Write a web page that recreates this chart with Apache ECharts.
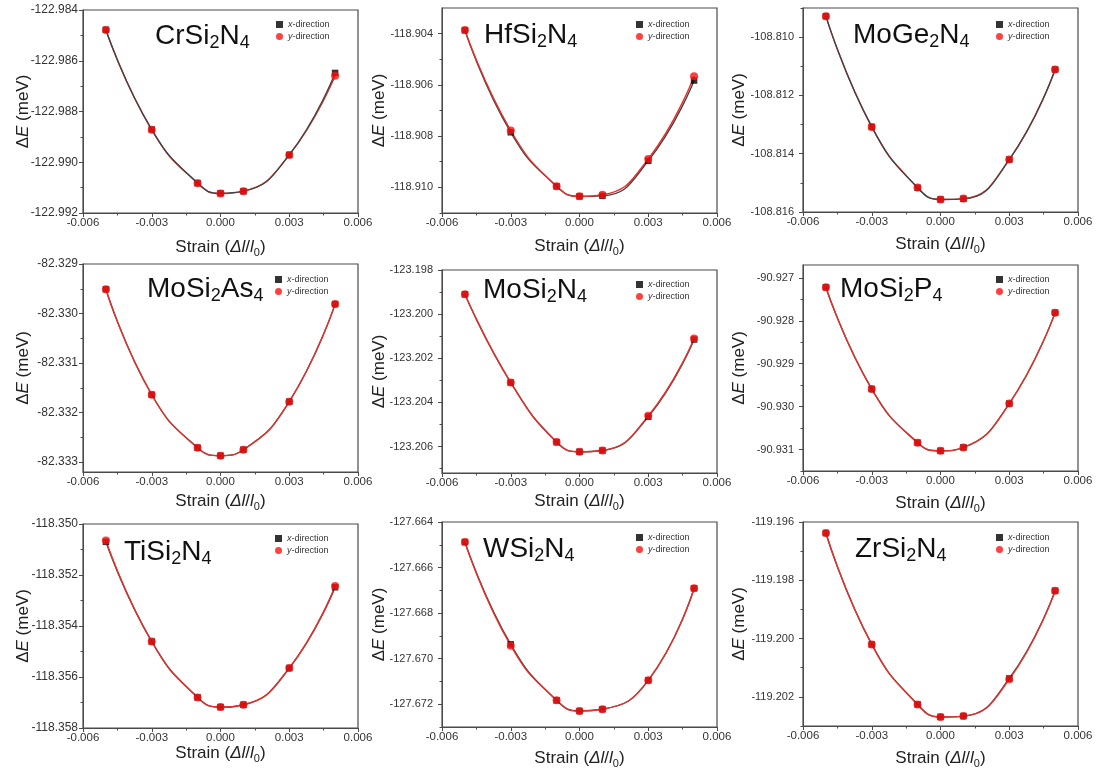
<!DOCTYPE html>
<html>
<head>
<meta charset="utf-8">
<script src="https://cdn.jsdelivr.net/npm/echarts@6/dist/echarts.min.js"></script>
<style>
  html, body { margin: 0; padding: 0; background: #fff; }
  #main { width: 1099px; height: 773px; }
</style>
</head>
<body>
<div id="main"></div>
<script>
// ---------- data ----------
// strain values shared by every panel
var strain = [-0.005, -0.003, -0.001, 0, 0.001, 0.003, 0.005];
var xTicks = [-0.006, -0.003, 0, 0.003, 0.006];

var formulas = ['CrSi{s|2}N{s|4}', 'HfSi{s|2}N{s|4}', 'MoGe{s|2}N{s|4}',
                'MoSi{s|2}As{s|4}', 'MoSi{s|2}N{s|4}', 'MoSi{s|2}P{s|4}',
                'TiSi{s|2}N{s|4}', 'WSi{s|2}N{s|4}', 'ZrSi{s|2}N{s|4}'];

// ΔE (meV), x-direction / y-direction
var crX = [-122.98478, -122.98871, -122.99082, -122.99122, -122.99114, -122.98971, -122.98648];
var crY = [-122.98479, -122.98872, -122.99083, -122.99123, -122.99114, -122.98971, -122.98659];
var hfX = [-118.90387, -118.90785, -118.90996, -118.91035, -118.91033, -118.90896, -118.90583];
var hfY = [-118.90386, -118.90778, -118.90996, -118.91035, -118.91029, -118.90889, -118.90566];
var geX = [-108.80928, -108.81308, -108.81517, -108.81557, -108.81555, -108.81420, -108.81111];
var geY = [-108.80928, -108.81308, -108.81516, -108.81557, -108.81554, -108.81420, -108.81111];
var asX = [-82.32951, -82.33164, -82.33271, -82.33287, -82.33275, -82.33178, -82.32981];
var asY = [-82.32951, -82.33164, -82.33271, -82.33287, -82.33275, -82.33178, -82.32981];
var nX  = [-123.19910, -123.20310, -123.20580, -123.20624, -123.20618, -123.20465, -123.20115];
var nY  = [-123.19910, -123.20310, -123.20580, -123.20624, -123.20618, -123.20461, -123.20110];
var pX  = [-90.92722, -90.92959, -90.93084, -90.93103, -90.93095, -90.92993, -90.92781];
var pY  = [-90.92722, -90.92959, -90.93084, -90.93103, -90.93095, -90.92993, -90.92781];
var tiX = [-118.35070, -118.35461, -118.35680, -118.35718, -118.35709, -118.35565, -118.35248];
var tiY = [-118.35065, -118.35461, -118.35680, -118.35718, -118.35709, -118.35565, -118.35243];
var wX  = [-127.66488, -127.66937, -127.67183, -127.67230, -127.67222, -127.67095, -127.66691];
var wY  = [-127.66488, -127.66943, -127.67183, -127.67230, -127.67222, -127.67095, -127.66691];
var zrX = [-119.19638, -119.20020, -119.20226, -119.20269, -119.20266, -119.20137, -119.19836];
var zrY = [-119.19638, -119.20020, -119.20226, -119.20269, -119.20266, -119.20140, -119.19836];

var xDir = [crX, hfX, geX, asX, nX, pX, tiX, wX, zrX];
var yDir = [crY, hfY, geY, asY, nY, pY, tiY, wY, zrY];

// y tick labels of each panel
var yTicks = [
  [-122.992, -122.990, -122.988, -122.986, -122.984],
  [-118.910, -118.908, -118.906, -118.904],
  [-108.816, -108.814, -108.812, -108.810],
  [-82.333, -82.332, -82.331, -82.330, -82.329],
  [-123.206, -123.204, -123.202, -123.200, -123.198],
  [-90.931, -90.930, -90.929, -90.928, -90.927],
  [-118.358, -118.356, -118.354, -118.352, -118.350],
  [-127.672, -127.670, -127.668, -127.666, -127.664],
  [-119.202, -119.200, -119.198, -119.196]
];
var yRange = [
  [-122.992, -122.984], [-118.911, -118.903], [-108.816, -108.809],
  [-82.3332, -82.329], [-123.2072, -123.198], [-90.9315, -90.9267],
  [-118.358, -118.350], [-127.673, -127.664], [-119.203, -119.196]
];

// ---------- layout ----------
var colLeft = [83, 442, 803];
var plotW = 275;
var yNameGap = [51, 54, 55];
var yLabelSize = [12, 11, 11];
var yLabelMargin = [5, 9, 9];
// [top, bottom] of each plot box
var rowBox = [[10, 213], [8, 213], [8, 212], [264, 472], [270, 473], [265, 471], [524, 728], [522, 727], [522, 726]];
var xNameGap = [24, 23, 22, 19, 18, 22, 15, 21, 22];
var titlePos = [[155, 20], [484, 19], [853, 19], [147, 273], [483, 274], [840, 273], [124, 536], [483, 533], [855, 533]];
var legendPos = [[276, 20], [636, 20], [996, 20], [275, 275], [636, 280], [996, 275], [275, 534], [636, 533], [996, 533]];
var blackOnTop = [true, false, true, false, false, false, false, false, false];

var FONT = 'Liberation Sans, Arial, sans-serif';
var AXIS_COLOR = '#4a4a4a';

function fmt(v) {
  return Math.abs(v) < 1e-9 ? '0.000' : v.toFixed(3);
}
// minor ticks half-way between the major ones, kept inside [min, max]
function minorOf(ticks, min, max) {
  var step = ticks[1] - ticks[0];
  var out = [];
  ticks.forEach(function (t) {
    [t - step / 2, t + step / 2].forEach(function (v) {
      if (v >= min - 1e-9 && v <= max + 1e-9 && out.every(function (o) { return Math.abs(o - v) > 1e-9; })) {
        out.push(v);
      }
    });
  });
  return out;
}
function pairs(ys) {
  return strain.map(function (x, k) { return [x, ys[k]]; });
}

function buildOption() {
  var option = { animation: false, grid: [], xAxis: [], yAxis: [], series: [], legend: [], title: [] };
  for (var i = 0; i < 9; i++) {
    var col = i % 3;
    var boxTop = rowBox[i][0], boxBottom = rowBox[i][1];
    var yMin = yRange[i][0], yMax = yRange[i][1];

    option.grid.push({
      left: colLeft[col], top: boxTop, width: plotW, height: boxBottom - boxTop,
      show: true, borderColor: AXIS_COLOR, borderWidth: 1.2
    });

    // main axes: labels + major ticks
    option.xAxis.push({
      type: 'value', gridIndex: i, min: -0.006, max: 0.006, interval: 0.003,
      axisLine: { onZero: false, lineStyle: { color: AXIS_COLOR } },
      axisTick: { length: 4, customValues: xTicks.slice() },
      axisLabel: { customValues: xTicks.slice(), formatter: fmt, margin: 4, fontSize: 11.5, color: '#333', fontFamily: FONT },
      splitLine: { show: false },
      name: 'Strain ({i|Δl}/{i|l}{s|0})', nameLocation: 'middle', nameGap: xNameGap[i],
      nameTextStyle: {
        fontSize: 17, color: '#222', fontFamily: FONT,
        rich: { i: { fontSize: 17, fontStyle: 'italic' }, s: { fontSize: 11, padding: [10, 0, 0, 0] } }
      }
    });
    option.yAxis.push({
      type: 'value', gridIndex: i, min: yMin, max: yMax,
      axisLine: { show: true, onZero: false, lineStyle: { color: AXIS_COLOR } },
      axisTick: { show: true, length: 4, customValues: yTicks[i].slice() },
      axisLabel: { customValues: yTicks[i].slice(), formatter: fmt, margin: yLabelMargin[col], fontSize: yLabelSize[col], color: '#333', fontFamily: FONT },
      splitLine: { show: false },
      name: 'Δ{i|E} (meV)', nameLocation: 'middle', nameGap: yNameGap[col], nameMoveOverlap: false,
      nameTextStyle: {
        fontSize: 17, color: '#222', fontFamily: FONT,
        rich: { i: { fontSize: 17, fontStyle: 'italic' } }
      }
    });

    // second pair of axes only for the minor ticks
    option.xAxis.push({
      type: 'value', gridIndex: i, min: -0.006, max: 0.006, position: 'bottom',
      axisLine: { show: false, onZero: false }, axisLabel: { show: false }, splitLine: { show: false },
      axisTick: { length: 2.5, customValues: minorOf(xTicks, -0.006, 0.006), lineStyle: { color: AXIS_COLOR } }
    });
    option.yAxis.push({
      type: 'value', gridIndex: i, min: yMin, max: yMax, position: 'left',
      axisLine: { show: false, onZero: false }, axisLabel: { show: false }, splitLine: { show: false },
      axisTick: { show: true, length: 2.5, customValues: minorOf(yTicks[i], yMin, yMax), lineStyle: { color: AXIS_COLOR } }
    });

    var ai = i * 2;
    // fitted curves
    option.series.push({
      name: 'x-fit', type: 'line', xAxisIndex: ai, yAxisIndex: ai, data: pairs(xDir[i]),
      smooth: 0.5, showSymbol: false, z: blackOnTop[i] ? 3 : 2,
      lineStyle: { color: '#444', width: 1.4 }
    });
    option.series.push({
      name: 'y-fit', type: 'line', xAxisIndex: ai, yAxisIndex: ai, data: pairs(yDir[i]),
      smooth: 0.5, showSymbol: false, z: blackOnTop[i] ? 2 : 3,
      lineStyle: { color: '#e8302a', width: 1.4 }
    });
    // computed points
    option.series.push({
      name: 'x-direction', type: 'scatter', xAxisIndex: ai, yAxisIndex: ai, data: pairs(xDir[i]),
      symbol: 'rect', symbolSize: 6.5, z: 4, itemStyle: { color: '#000' }
    });
    option.series.push({
      name: 'y-direction', type: 'scatter', xAxisIndex: ai, yAxisIndex: ai, data: pairs(yDir[i]),
      symbol: 'circle', symbolSize: 8, z: 5, itemStyle: { color: '#ff1010' }
    });

    option.legend.push({
      left: legendPos[i][0], top: legendPos[i][1], orient: 'vertical', padding: 0,
      itemWidth: 7, itemHeight: 7, itemGap: 3, selectedMode: false,
      data: [{ name: 'x-direction', icon: 'rect' }, { name: 'y-direction', icon: 'circle' }],
      formatter: function (name) { return '{i|' + name.charAt(0) + '}' + name.slice(1); },
      textStyle: { fontSize: 9, color: '#333', fontFamily: FONT, rich: { i: { fontSize: 9, fontStyle: 'italic' } } }
    });

    option.title.push({
      text: formulas[i], left: titlePos[i][0], top: titlePos[i][1], padding: 0,
      textStyle: {
        fontSize: 28, fontWeight: 'normal', color: '#111', fontFamily: FONT,
        rich: { s: { fontSize: 18, padding: [14, 0, 0, 0] } }
      }
    });
  }
  return option;
}

var myChart = echarts.init(document.getElementById('main'));
myChart.setOption(buildOption());
window.addEventListener('resize', function () {
  myChart.resize();
});
</script>
</body>
</html>
